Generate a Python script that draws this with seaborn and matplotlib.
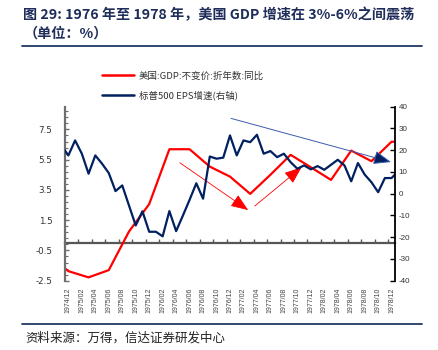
import numpy as np
import pandas as pd
import matplotlib
matplotlib.use("Agg")
import matplotlib.pyplot as plt
import seaborn as sns
from matplotlib.lines import Line2D

# ---------------- data ----------------
eps_months = [str(p).replace("-", "/") for p in pd.period_range("1974-11", "1979-01", freq="M")]
eps_values = [22.0, 17.6, 24.5, 18.4, 9.2, 17.6, 13.8, 9.5, 1.2, 3.8,
              -5.4, -14.6, -8.1, -17.5, -17.5, -19.6, -8.0, -17.2, -10.1, -2.8,
              4.8, -2.3, 17.1, 16.1, 16.6, 26.8, 17.6, 24.5, 23.7, 27.1,
              18.4, 19.6, 16.8, 18.4, 14.5, 11.5, 13.0, 11.2, 12.7, 11.0,
              13.3, 15.6, 13.0, 5.7, 14.1, 8.8, 5.3, 0.7, 7.2, 7.2, 10.5]

gdp_quarters = ["1974/09", "1974/12", "1975/03", "1975/06", "1975/09", "1975/12",
                "1976/03", "1976/06", "1976/09", "1976/12", "1977/03", "1977/06",
                "1977/09", "1977/12", "1978/03", "1978/06", "1978/09", "1978/12", "1979/03"]
gdp_values = [-0.8, -1.87, -2.28, -1.8, 0.75, 2.56, 6.19, 6.19, 5.04, 4.38,
              3.24, 4.5, 5.82, 5.0, 4.16, 6.1, 5.4, 6.69, 6.6]

x_tick_labels = ["1974/12", "1975/02", "1975/04", "1975/06", "1975/08", "1975/10",
                 "1975/12", "1976/02", "1976/04", "1976/06", "1976/08", "1976/10",
                 "1976/12", "1977/02", "1977/04", "1977/06", "1977/08", "1977/10",
                 "1977/12", "1978/02", "1978/04", "1978/06", "1978/08", "1978/10",
                 "1978/12"]

left_ticks = [-2.5, -0.5, 1.5, 3.5, 5.5, 7.5]
right_ticks = [-40, -30, -20, -10, 0, 10, 20, 30, 40]

label_gdp = "美国:GDP:不变价:折年数:同比"
label_eps = "标普500 EPS增速(右轴)"


def month_pos(s):
    y, m = s.split("/")
    return (int(y) - 1974) * 12 + int(m) - 12


df_eps = pd.DataFrame({"month": eps_months, "eps": eps_values})
df_eps["pos"] = df_eps["month"].map(month_pos)
df_gdp = pd.DataFrame({"quarter": gdp_quarters, "gdp": gdp_values})
df_gdp["pos"] = df_gdp["quarter"].map(month_pos)
x_tick_pos = [month_pos(s) for s in x_tick_labels]

# ---------------- style ----------------
sns.set_theme(style="white")
plt.rcParams["font.family"] = ["Noto Sans CJK SC", "DejaVu Sans"]
plt.rcParams["axes.unicode_minus"] = False

RED = "#FF0000"
NAVY = "#002060"
TITLE_C = "#1F2D5A"
GRAY = "#6E6E6E"

fig = plt.figure(figsize=(4.38, 3.5), dpi=100)
ax = fig.add_axes([0.1484, 0.198, 0.7534, 0.4971])
ax2 = ax.twinx()

sns.lineplot(data=df_gdp, x="pos", y="gdp", ax=ax, color=RED, lw=1.6,
             legend=False, sort=True, errorbar=None)
sns.lineplot(data=df_eps, x="pos", y="eps", ax=ax2, color=NAVY, lw=1.6,
             legend=False, sort=True, errorbar=None)

ymin, ymax = -2.5, 9.0
ax.set_xlim(-0.5, 48.5)
ax.set_ylim(ymin, ymax)
ax2.set_ylim(-40, 40)

ax.set_xlabel("")
ax.set_ylabel("")
ax2.set_ylabel("")

# spines
for s in ["top", "bottom", "right"]:
    ax.spines[s].set_visible(False)
ax.spines["left"].set_color(GRAY)
ax.spines["left"].set_linewidth(1.6)
for s in ["top", "bottom", "left"]:
    ax2.spines[s].set_visible(False)
ax2.spines["right"].set_color("black")
ax2.spines["right"].set_linewidth(1.3)

# left axis ticks
ax.set_yticks(left_ticks)
ax.set_yticklabels([f"{v:.1f}" for v in left_ticks], family="DejaVu Sans")
ax.set_yticks(np.arange(-2.5, 9.01, 0.4), minor=True)
ax.tick_params(axis="y", which="major", direction="in", length=3, width=1,
               color=GRAY, labelsize=6.3, labelcolor="#333333", pad=9, left=True)
ax.tick_params(axis="y", which="minor", direction="in", length=2, width=0.8,
               color=GRAY, left=True)

# right axis ticks
ax2.set_yticks(right_ticks)
ax2.set_yticklabels([str(v) for v in right_ticks], family="Liberation Sans")
ax2.tick_params(axis="y", which="major", direction="in", length=3.5, width=1,
                color="black", labelsize=5.8, labelcolor="#333333", pad=2.5, right=True)

# x tick labels at bottom
ax.set_xticks(x_tick_pos)
ax.set_xticklabels(x_tick_labels, rotation=90, family="Liberation Sans")
ax.tick_params(axis="x", which="major", length=0, labelsize=5.0,
               labelcolor="#444444", pad=5)

# zero line carrying the category tick marks
loc0 = (0 - ymin) / (ymax - ymin)
sec = ax.secondary_xaxis(loc0)
sec.set_xticks(np.arange(1.5, 48, 2))
sec.tick_params(direction="in", length=3, width=1, color="#555555",
                labelbottom=False, labeltop=False)
for s in sec.spines.values():
    s.set_color("#555555")
    s.set_linewidth(1.6)

# annotation arrows
ax.annotate("", xy=(0.988, 0.682), xytext=(0.503, 0.933), xycoords="axes fraction",
            arrowprops=dict(arrowstyle="-|>,head_length=0.9,head_width=0.35",
                            ec="#3A5BB0", fc=NAVY, lw=0.7, shrinkA=0, shrinkB=0))
ax.annotate("", xy=(0.555, 0.406), xytext=(0.348, 0.678), xycoords="axes fraction",
            arrowprops=dict(arrowstyle="-|>,head_length=0.9,head_width=0.35",
                            ec=RED, fc=RED, lw=0.6, shrinkA=0, shrinkB=0))
ax.annotate("", xy=(0.717, 0.652), xytext=(0.575, 0.429), xycoords="axes fraction",
            arrowprops=dict(arrowstyle="-|>,head_length=0.9,head_width=0.35",
                            ec=RED, fc=RED, lw=0.6, shrinkA=0, shrinkB=0))

# legend
handles = [Line2D([], [], color=RED, lw=1.8), Line2D([], [], color=NAVY, lw=1.8)]
fig.legend(handles, [label_gdp, label_eps], loc="upper left",
           bbox_to_anchor=(0.2322, 0.796), frameon=False, fontsize=6.8,
           handlelength=3.4, handletextpad=0.55, labelspacing=1.06,
           borderpad=0, borderaxespad=0, labelcolor="#333333")

# title, rules, source
fig.text(0.053, 0.957, "图 29: 1976 年至 1978 年，美国 GDP 增速在 3%-6%之间震荡",
         fontsize=10.2, fontweight="bold", color=TITLE_C, ha="left", va="center")
fig.text(0.053, 0.905, "（单位：%）", fontsize=10.2, fontweight="bold",
         color=TITLE_C, ha="left", va="center")
fig.add_artist(Line2D([0.05, 0.964], [0.868, 0.868], color="#1F3864", lw=1.3))
fig.add_artist(Line2D([0.05, 0.964], [0.074, 0.074], color="#1F3864", lw=1.3))
fig.text(0.058, 0.034, "资料来源：万得，信达证券研发中心", fontsize=9,
         color="#222222", ha="left", va="center")

fig.savefig("out.png", dpi=100)
